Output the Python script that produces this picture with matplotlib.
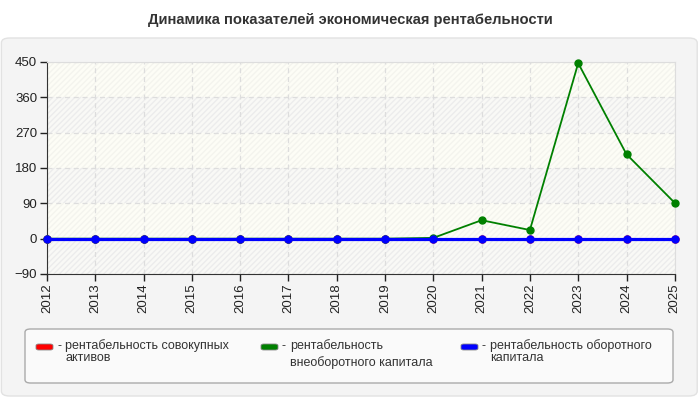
import matplotlib.pyplot as plt
from matplotlib.patches import FancyBboxPatch, Rectangle

years = list(range(2012, 2026))
total_assets = [0, 0, 0, 0, 0, 0, 0, 0, 0, 0, 0, 0, 0, 0]
fixed_capital = [0, 0, 0, 0, 0, 0, 0, 0, 2, 47, 22, 447, 215, 91]
working_capital = [0, 0, 0, 0, 0, 0, 0, 0, 0, 0, 0, 0, 0, 0]
y_ticks = [-90, 0, 90, 180, 270, 360, 450]

names = ['рентабельность совокупных\nактивов',
         'рентабельность\nвнеоборотного капитала',
         'рентабельность оборотного\nкапитала']
colors = ['#ff0000', '#008000', '#0000ff']

plt.rcParams['font.family'] = ['Liberation Sans', 'DejaVu Sans']

fig = plt.figure(figsize=(7, 4), dpi=100)
fig.patch.set_facecolor('white')

# outer panel
panel = FancyBboxPatch((0.002, 0.01), 0.994, 0.895, boxstyle='round,pad=0,rounding_size=0.012',
                       transform=fig.transFigure, facecolor='#f4f4f4', edgecolor='#e2e2e2',
                       linewidth=1, zorder=-10)
fig.patches.append(panel)

fig.text(0.5, 0.95, 'Динамика показателей экономическая рентабельности', ha='center', va='center',
         fontsize=10.6, fontweight='bold', color='#333333')

ax = fig.add_axes([0.067, 0.315, 0.897, 0.53])
ax.set_facecolor('#fdfdf6')
ax.set_xlim(years[0], years[-1])
ax.set_ylim(y_ticks[0], y_ticks[-1])

# alternating bands
for i in range(len(y_ticks) - 1):
    if i % 2 == 0:
        fc, hc = '#f9f9f6', '#ececec'
    else:
        fc, hc = '#fdfdf6', '#f4f4ee'
    ax.add_patch(Rectangle((years[0], y_ticks[i]), years[-1] - years[0], y_ticks[i + 1] - y_ticks[i],
                           facecolor=fc, edgecolor=hc, hatch='//////', linewidth=0, zorder=0))

ax.grid(True, color='#dddddd', linestyle=(0, (4, 3)), linewidth=0.9, zorder=1)
ax.set_axisbelow(True)

ax.plot(years, total_assets, color=colors[0], linewidth=2, marker='o', markersize=5, zorder=3,
        clip_on=False)
ax.plot(years, fixed_capital, color=colors[1], linewidth=1.3, marker='o', markersize=5, zorder=4,
        clip_on=False)
ax.plot(years, working_capital, color=colors[2], linewidth=2.3, marker='o', markersize=5, zorder=5,
        clip_on=False)

ax.set_xticks(years)
ax.set_xticklabels([str(y) for y in years], rotation=90)
ax.set_yticks(y_ticks)
ax.tick_params(axis='both', labelsize=9.5, colors='#222222', length=5, width=1, pad=2)
for side in ['top', 'right']:
    ax.spines[side].set_color('#dddddd')
for side in ['left', 'bottom']:
    ax.spines[side].set_color('#333333')

# legend box
leg = FancyBboxPatch((25 / 700, 1 - 383 / 400), 648 / 700, 54 / 400,
                     boxstyle='round,pad=0,rounding_size=0.008', transform=fig.transFigure,
                     facecolor='#fafafa', edgecolor='#aaaaaa', linewidth=1, zorder=-5)
fig.patches.append(leg)

leg_x = [36, 261, 461]
spacing = [1.0, 1.45, 1.0]
for x, name, c, ls in zip(leg_x, names, colors, spacing):
    fig.patches.append(FancyBboxPatch((x / 700, 1 - 350 / 400), 17 / 700, 6 / 400,
                                      boxstyle='round,pad=0,rounding_size=0.004',
                                      transform=fig.transFigure, facecolor=c,
                                      edgecolor='#888888', linewidth=0.6))
    fig.text((x + 21) / 700, 1 - 346 / 400, '-', ha='left', va='center', fontsize=9, color='#333333')
    fig.text((x + 29) / 700, 1 - 339 / 400, name, ha='left', va='top', fontsize=9, color='#333333',
             linespacing=ls)

fig.savefig('out.png', dpi=100)
